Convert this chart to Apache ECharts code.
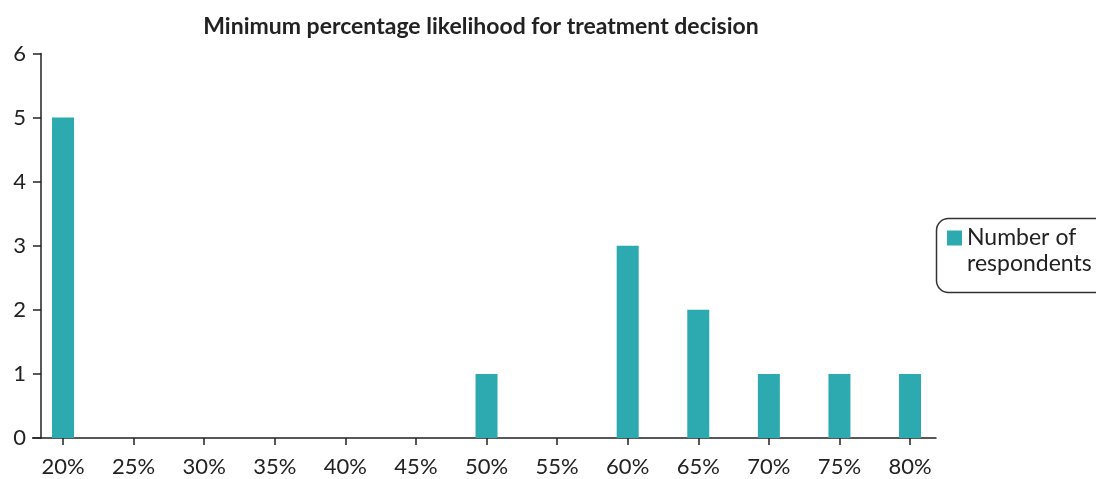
<!DOCTYPE html>
<html>
<head>
<meta charset="utf-8">
<script src="https://cdn.jsdelivr.net/npm/echarts@6/dist/echarts.min.js"></script>
<style>
  html, body { margin: 0; padding: 0; background: #fff; }
  #chart { width: 1096px; height: 479px; }
</style>
</head>
<body>
<div id="chart"></div>
<script>
// Minimum percentage likelihood for treatment decision (count of respondents)
const likelihoodPct = [20, 25, 30, 35, 40, 45, 50, 55, 60, 65, 70, 75, 80];
const respondents = [5, 0, 0, 0, 0, 0, 1, 0, 3, 2, 1, 1, 1];
const seriesName = 'Number of respondents';
const yTicks = [0, 1, 2, 3, 4, 5, 6];

const FONT = 'Lato, "Open Sans", sans-serif';
const INK = '#222222';
const TEAL = '#2CAAB0';

const chart = echarts.init(document.getElementById('chart'), null, { renderer: 'canvas' });

chart.setOption({
  animation: false,
  backgroundColor: '#ffffff',
  title: {
    text: 'Minimum percentage likelihood for treatment decision',
    left: 476,
    top: 10,
    textAlign: 'center',
    textStyle: { fontFamily: FONT, fontSize: 23, fontWeight: 'bold', color: INK }
  },
  grid: { left: 41, right: 160, top: 53.5, bottom: 41, containLabel: false },
  xAxis: {
    type: 'value',
    // half a column of padding either side of the first and last category
    min: 18.44,
    max: 81.84,
    splitLine: { show: false },
    axisLine: { show: true, lineStyle: { color: INK, width: 1.5 } },
    axisTick: { show: true, length: 7, customValues: likelihoodPct, lineStyle: { color: INK, width: 1.5 } },
    axisLabel: {
      customValues: likelihoodPct,
      formatter: v => v + '%',
      fontFamily: FONT, fontSize: 22, color: INK, margin: 18
    }
  },
  yAxis: {
    type: 'value',
    min: yTicks[0],
    max: yTicks[yTicks.length - 1],
    interval: 1,
    splitLine: { show: false },
    axisLine: { show: true, lineStyle: { color: INK, width: 1.5 } },
    axisTick: { show: true, length: 8, lineStyle: { color: INK, width: 1.5 } },
    axisLabel: { fontFamily: FONT, fontSize: 22, color: INK, margin: 15 }
  },
  legend: {
    data: [seriesName],
    left: 947,
    top: 199,
    orient: 'vertical',
    itemWidth: 15,
    itemHeight: 15,
    icon: 'rect',
    padding: 0,
    // leading blank line keeps the first text line level with the swatch
    formatter: () => '\nNumber of\nrespondents',
    textStyle: { fontFamily: FONT, fontSize: 23, color: INK, lineHeight: 26 }
  },
  graphic: [
    {
      // x-axis baseline continues left past the value axis, as far as its ticks
      type: 'line',
      shape: { x1: 32, y1: 438, x2: 41, y2: 438 },
      style: { stroke: INK, lineWidth: 1.5 },
      silent: true
    },
    {
      type: 'rect',
      left: 934,
      top: 216,
      shape: { width: 180, height: 74, r: 12 },
      style: { fill: 'none', stroke: '#333333', lineWidth: 1.5 },
      silent: true,
      z: 0
    }
  ],
  series: [{
    name: seriesName,
    type: 'bar',
    data: likelihoodPct.map((p, i) => [p, respondents[i]]),
    barWidth: 22,
    itemStyle: { color: TEAL }
  }]
});
</script>
</body>
</html>
